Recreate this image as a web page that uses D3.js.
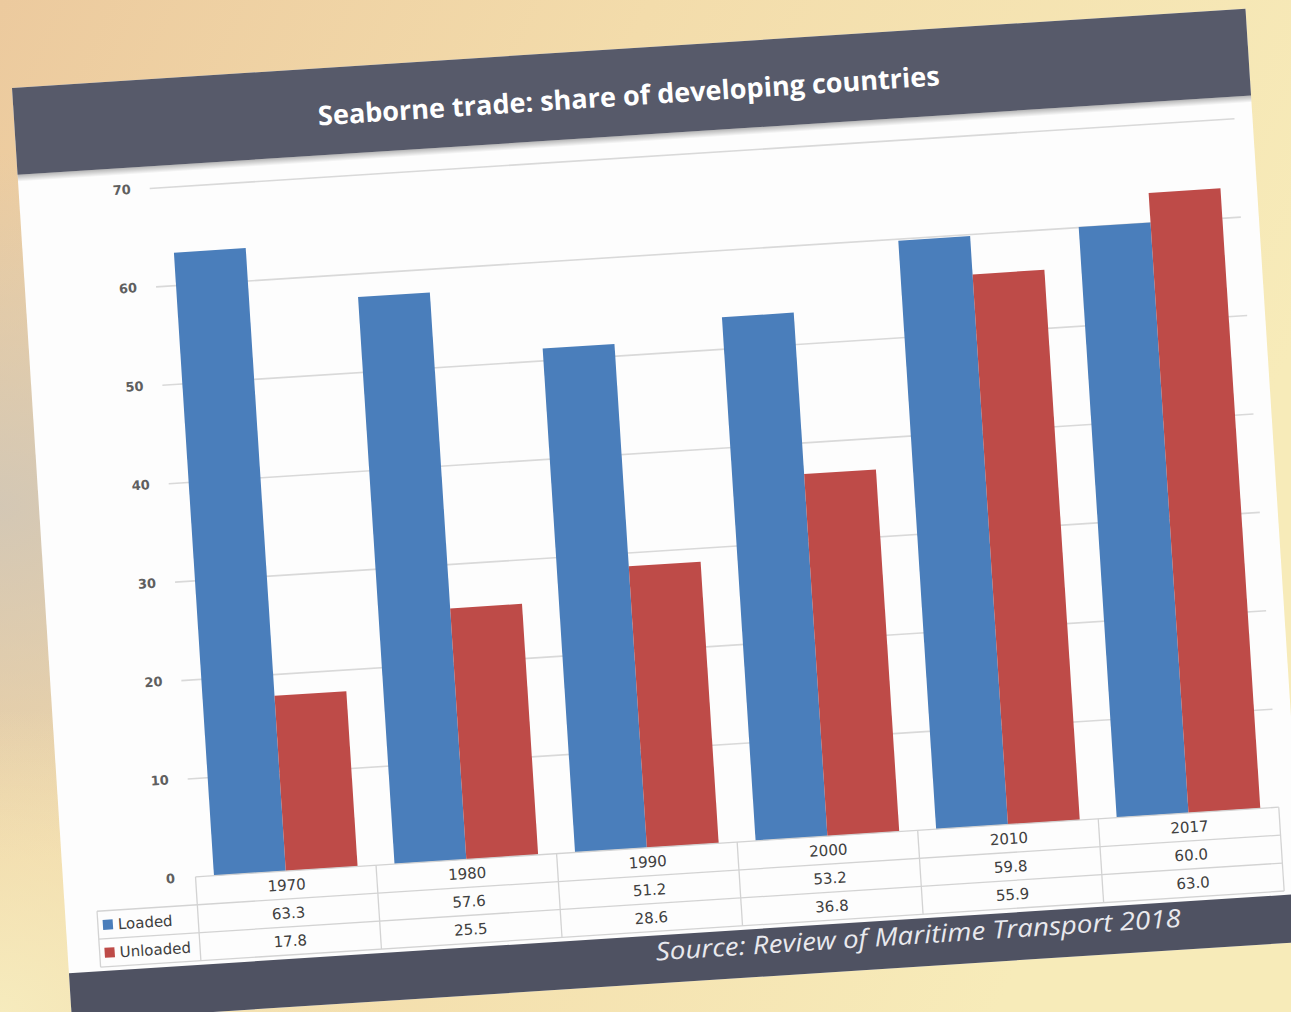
<!DOCTYPE html>
<html>
<head>
<meta charset="utf-8">
<script src="https://cdn.jsdelivr.net/npm/d3@7"></script>
<style>
  html, body { margin: 0; padding: 0; overflow: hidden; background: #f3dfae; }
  svg { display: block; }
</style>
</head>
<body>
<svg id="chart" width="1291" height="1012"></svg>
<script>
// ---------------- data ----------------
const years = ["1970", "1980", "1990", "2000", "2010", "2017"];
const loaded = [63.3, 57.6, 51.2, 53.2, 59.8, 60.0];
const unloaded = [17.8, 25.5, 28.6, 36.8, 55.9, 63.0];
const seriesNames = ["Loaded", "Unloaded"];
const yTicks = [0, 10, 20, 30, 40, 50, 60, 70];
const titleText = "Seaborne trade: share of developing countries";
const sourceText = "Source: Review of Maritime Transport 2018";

// ---------------- setup ----------------
const W = 1291, H = 1012;
const svg = d3.select("#chart");
const defs = svg.append("defs");

// background (warm parchment map tone)
const bg = defs.append("linearGradient").attr("id", "bg")
  .attr("x1", "0").attr("y1", "0").attr("x2", "1").attr("y2", "0.35");
bg.append("stop").attr("offset", "0").attr("stop-color", "#ecca9e");
bg.append("stop").attr("offset", "0.45").attr("stop-color", "#f3dcab");
bg.append("stop").attr("offset", "1").attr("stop-color", "#f7ebb9");
const spot = defs.append("radialGradient").attr("id", "spot")
  .attr("cx", "0").attr("cy", "0.5").attr("r", "0.35");
spot.append("stop").attr("offset", "0").attr("stop-color", "#cfc6b8").attr("stop-opacity", 0.85);
spot.append("stop").attr("offset", "1").attr("stop-color", "#cfc6b8").attr("stop-opacity", 0);
const spot2 = defs.append("radialGradient").attr("id", "spot2")
  .attr("cx", "0").attr("cy", "1").attr("r", "0.3");
spot2.append("stop").attr("offset", "0").attr("stop-color", "#f6ebbd").attr("stop-opacity", 1);
spot2.append("stop").attr("offset", "1").attr("stop-color", "#f6ebbd").attr("stop-opacity", 0);

const shadow = defs.append("linearGradient").attr("id", "hshadow")
  .attr("x1", "0").attr("y1", "0").attr("x2", "0").attr("y2", "1");
shadow.append("stop").attr("offset", "0").attr("stop-color", "#000").attr("stop-opacity", 0.28);
shadow.append("stop").attr("offset", "1").attr("stop-color", "#000").attr("stop-opacity", 0);

svg.append("rect").attr("width", W).attr("height", H).attr("fill", "url(#bg)");
svg.append("rect").attr("width", W).attr("height", H).attr("fill", "url(#spot)");
svg.append("rect").attr("width", W).attr("height", H).attr("fill", "url(#spot2)");

// tilted card (the photo is rotated slightly counter-clockwise)
const CW = 1236;
const card = svg.append("g").attr("transform", "translate(12,88) rotate(-3.68)");

card.append("rect").attr("x", 0).attr("y", 0).attr("width", CW).attr("height", 935)
  .attr("fill", "#fdfdfd");
card.append("rect").attr("x", 0).attr("y", 0).attr("width", CW).attr("height", 87)
  .attr("fill", "#575a6a");
card.append("rect").attr("x", 0).attr("y", 87).attr("width", CW).attr("height", 7)
  .attr("fill", "url(#hshadow)");
card.append("rect").attr("x", 0).attr("y", 887).attr("width", CW).attr("height", 48)
  .attr("fill", "#4f5262");

// title
card.append("text")
  .attr("x", 615).attr("y", 57)
  .attr("text-anchor", "middle")
  .attr("font-family", "'Open Sans', 'Noto Sans', sans-serif")
  .attr("font-weight", 700)
  .attr("font-size", 27)
  .attr("fill", "#ffffff")
  .attr("textLength", 623)
  .attr("lengthAdjust", "spacingAndGlyphs")
  .text(titleText);

// ---------------- scales ----------------
const plotLeft = 132.5, plotRight = 1218, baseY = 799, topY = 108.6;
const x0 = d3.scaleBand().domain(years).range([plotLeft, plotRight]).paddingInner(0).paddingOuter(0);
const x1 = d3.scaleBand().domain(seriesNames).range([0, x0.bandwidth()]).paddingInner(0).paddingOuter(0.257);
const y = d3.scaleLinear().domain([0, 70]).range([baseY, topY]);
const colors = { Loaded: "#4a7ebb", Unloaded: "#be4b48" };

// gridlines + y labels
const yAxis = d3.axisLeft(y)
  .tickValues(yTicks)
  .tickSize(-(plotRight - plotLeft + 1.5))
  .tickPadding(19)
  .tickFormat(d3.format("d"));
const gy = card.append("g").attr("transform", `translate(${plotLeft - 1.5},0)`).call(yAxis);
gy.select(".domain").remove();
gy.selectAll(".tick line")
  .attr("stroke", "#d9d9d9").attr("stroke-width", 1.6)
  .attr("display", d => d === 0 ? "none" : null);
gy.selectAll(".tick text")
  .attr("font-family", "'DejaVu Sans', Verdana, sans-serif")
  .attr("font-weight", 700)
  .attr("font-size", 13)
  .attr("fill", "#5f5f5f");

// bars
const rows = years.map((yr, i) => ({ year: yr, values: [
  { key: "Loaded", value: loaded[i] },
  { key: "Unloaded", value: unloaded[i] }
]}));
const groups = card.append("g").selectAll("g").data(rows).join("g")
  .attr("transform", d => `translate(${x0(d.year)},0)`);
groups.selectAll("rect").data(d => d.values).join("rect")
  .attr("x", d => x1(d.key))
  .attr("width", x1.bandwidth())
  .attr("y", d => y(d.value))
  .attr("height", d => baseY - y(d.value))
  .attr("fill", d => colors[d.key]);

// ---------------- data table ----------------
const rowH = 28;
const r0 = baseY, r1 = baseY + rowH, r2 = baseY + 2 * rowH, r3 = baseY + 3 * rowH;
const legLeft = 32;
const tbl = card.append("g").attr("stroke", "#d3d3d3").attr("stroke-width", 1.3);
tbl.append("line").attr("x1", plotLeft).attr("x2", plotRight).attr("y1", r0).attr("y2", r0);
[r1, r2, r3].forEach(v => tbl.append("line").attr("x1", legLeft).attr("x2", plotRight).attr("y1", v).attr("y2", v));
tbl.append("line").attr("x1", legLeft).attr("x2", legLeft).attr("y1", r1).attr("y2", r3);
years.forEach(yr => tbl.append("line").attr("x1", x0(yr)).attr("x2", x0(yr)).attr("y1", r0).attr("y2", r3));
tbl.append("line").attr("x1", plotRight).attr("x2", plotRight).attr("y1", r0).attr("y2", r3);

const cellFont = "'DejaVu Sans', Verdana, sans-serif";
const fmt = d3.format(".1f");
const cells = card.append("g")
  .attr("font-family", cellFont).attr("font-size", 15).attr("fill", "#404040")
  .attr("text-anchor", "middle");
years.forEach((yr, i) => {
  const cx = x0(yr) + x0.bandwidth() / 2;
  cells.append("text").attr("x", cx).attr("y", (r0 + r1) / 2).attr("dy", "0.36em").text(yr);
  cells.append("text").attr("x", cx).attr("y", (r1 + r2) / 2).attr("dy", "0.36em").text(fmt(loaded[i]));
  cells.append("text").attr("x", cx).attr("y", (r2 + r3) / 2).attr("dy", "0.36em").text(fmt(unloaded[i]));
});

// legend keys inside the table
seriesNames.forEach((name, i) => {
  const cy = (i === 0 ? (r1 + r2) / 2 : (r2 + r3) / 2);
  card.append("rect").attr("x", legLeft + 5).attr("y", cy - 5).attr("width", 10).attr("height", 10)
    .attr("fill", colors[name]);
  card.append("text").attr("x", legLeft + 20).attr("y", cy).attr("dy", "0.36em")
    .attr("font-family", cellFont).attr("font-size", 15).attr("fill", "#404040")
    .text(name);
});

// source
card.append("text")
  .attr("x", 587).attr("y", 912)
  .attr("font-family", "'Open Sans', 'Noto Sans', sans-serif")
  .attr("font-style", "italic")
  .attr("font-size", 25)
  .attr("fill", "#e9e9ee")
  .attr("textLength", 526)
  .attr("lengthAdjust", "spacingAndGlyphs")
  .text(sourceText);
</script>
</body>
</html>
